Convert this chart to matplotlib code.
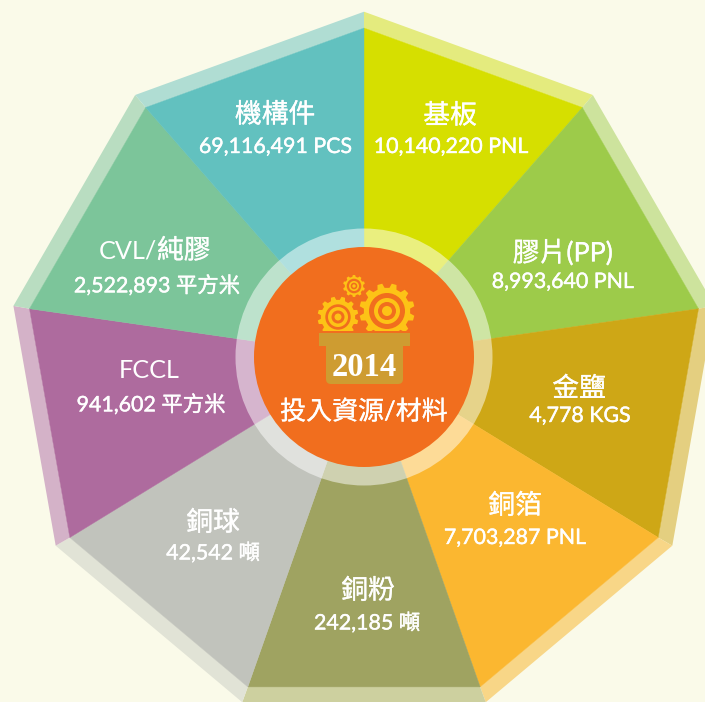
import numpy as np
import matplotlib
matplotlib.use("Agg")
import matplotlib.pyplot as plt
import matplotlib.patheffects as pe
from matplotlib.patches import Polygon, Circle, FancyBboxPatch, Rectangle

# ---- data (clockwise from 12 o'clock) ----
categories = ["基板", "膠片(PP)", "金鹽", "銅箔", "銅粉", "銅球", "FCCL", "CVL/純膠", "機構件"]
value_labels = ["10,140,220 PNL", "8,993,640 PNL", "4,778 KGS", "7,703,287 PNL",
                "242,185 噸", "42,542 噸", "941,602 平方米", "2,522,893 平方米", "69,116,491 PCS"]
shares = [1, 1, 1, 1, 1, 1, 1, 1, 1]
year = "2014"
center_title = "投入資源/材料"

# ---- styling ----
colors = ["#D6DF00", "#9DCB4A", "#CEA716", "#FBB730", "#9FA361", "#C1C3BC", "#AE6B9E", "#7CC59A", "#62C1BF"]
band_colors = ["#E4EB7E", "#CDE39D", "#E4CF80", "#F8D687", "#CDD09F", "#E1E3D6", "#D4B2C8", "#B9DDC1", "#B0DDD3"]
label_layout = [(450, 116, 451, 147), (563, 253, 563, 282), (579, 389, 580, 416), (515, 506, 515, 538),
                (368, 591, 367, 623), (213, 523, 213, 553), (149, 370, 151, 405), (157, 251, 157, 286),
                (275, 115, 275.5, 147)]

BG = "#FAFAE9"
GOLD = "#FDC316"
ORANGE = "#F16E1E"
TRAY = "#CE9C31"
plt.rcParams['font.family'] = ['Lato', 'Noto Sans CJK TC', 'DejaVu Sans']
stroke = [pe.withStroke(linewidth=0.2, foreground="white")]
value_stroke = [pe.withStroke(linewidth=0.3, foreground="white")]

fig = plt.figure(figsize=(7.05, 7.02), dpi=100, facecolor=BG)
ax = fig.add_axes([0, 0, 1, 1])
ax.set_xlim(0, 705)
ax.set_ylim(702, 0)
ax.axis("off")

cx, cy_poly, cy_hub = 364, 367.7, 357
R_in, R_out = 339.7, 356
r_ring, r_hub = 128.5, 110

angles = np.deg2rad(np.concatenate([[0], np.cumsum(shares)]) * 360 / sum(shares))
def vert(a, r):
    return cx + r * np.sin(a), cy_poly - r * np.cos(a)

for i, (c, bc) in enumerate(zip(colors, band_colors)):
    a0, a1 = angles[i], angles[i + 1]
    ax.add_patch(Polygon([vert(a0, R_in), vert(a1, R_in), vert(a1, R_out), vert(a0, R_out)],
                         closed=True, fc=bc, ec="none", zorder=1))
    ax.add_patch(Polygon([(cx, cy_hub), vert(a0, R_in), vert(a1, R_in)],
                         closed=True, fc=c, ec=c, lw=0.3, zorder=2))

ax.add_patch(Circle((cx, cy_hub), r_ring, fc="white", alpha=0.5, ec="none", zorder=3))
ax.add_patch(Circle((cx, cy_hub), r_hub, fc=ORANGE, ec="none", zorder=4))

def gear(x, y, ro, teeth, rings):
    pts = []
    rr = ro * 0.84
    w = 2 * np.pi / teeth
    for k in range(teeth):
        t = w * k + w / 2
        for frac, r in [(-0.30, rr), (-0.17, ro), (0.17, ro), (0.30, rr)]:
            pts.append((x + r * np.cos(t + frac * w), y + r * np.sin(t + frac * w)))
    ax.add_patch(Polygon(pts, closed=True, fc=GOLD, ec="none", zorder=5))
    for i, r in enumerate(rings):
        ax.add_patch(Circle((x, y), r, fc=ORANGE if i % 2 == 0 else GOLD, ec="none", zorder=6 + i))

gear(387, 311, 27.7, 12, [18, 13, 9, 5])
gear(338, 317, 20.5, 12, [12.7, 10, 6.5, 3.5])
gear(354, 286, 11, 10, [7.3, 5, 3.3, 1.7])

# orange gap trims the gears flat just above the tray
ax.add_patch(Rectangle((312, 331), 105, 8, fc=ORANGE, ec="none", zorder=11))
ax.add_patch(Rectangle((319, 333), 91, 13, fc=TRAY, ec="none", zorder=11))
ax.add_patch(FancyBboxPatch((329, 340), 71, 41, boxstyle="round,pad=3,rounding_size=5",
                            fc=TRAY, ec="none", zorder=11))

ax.text(364, 367, year, ha="center", va="center", color="white", fontsize=23.5,
        family="Liberation Serif", fontweight="bold", zorder=12)
ax.text(364, 412, center_title, ha="center", va="center", color="white", fontsize=18.7,
        path_effects=stroke, zorder=12)

NAME_SIZE = 19.3
for name, val, (nx, ny, vx, vy) in zip(categories, value_labels, label_layout):
    if name == "FCCL":
        ax.text(nx, ny, name, ha="center", va="center", color="white", fontsize=18.2, zorder=12)
    elif "/" in name:
        left, right = name.split("/")
        ax.text(nx, ny, left + "/", ha="right", va="center", color="white", fontsize=18.2, zorder=12)
        ax.text(nx, ny, right, ha="left", va="center", color="white", fontsize=NAME_SIZE,
                path_effects=stroke, zorder=12)
    else:
        ax.text(nx, ny, name, ha="center", va="center", color="white", fontsize=NAME_SIZE,
                path_effects=stroke, zorder=12)
    ax.text(vx, vy, val, ha="center", va="center", color="white", fontsize=15.4,
            path_effects=value_stroke, zorder=12)

fig.savefig("out.png", dpi=100, facecolor=BG)
